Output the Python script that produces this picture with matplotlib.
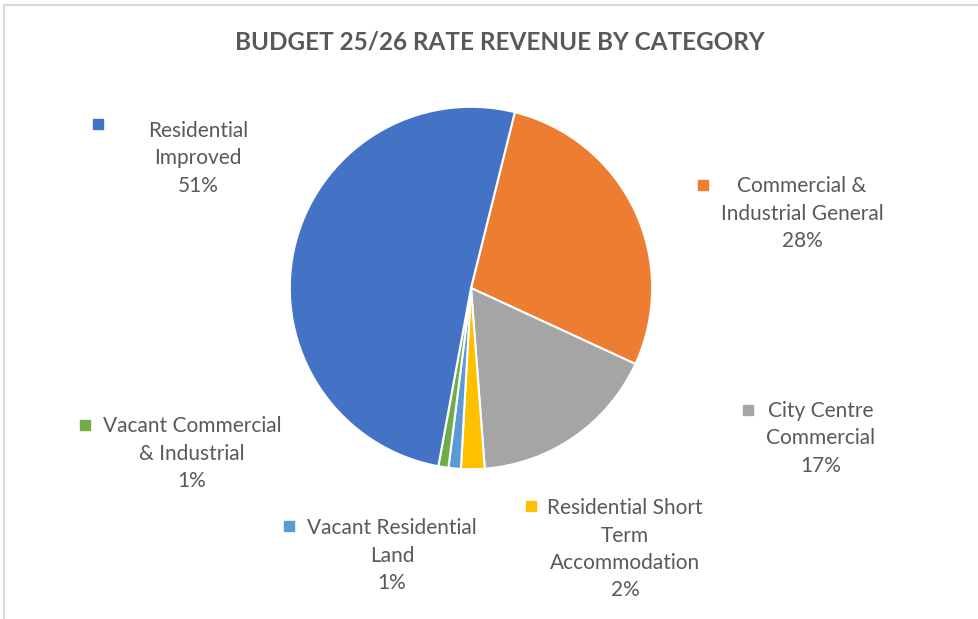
import matplotlib.pyplot as plt

W, H = 979, 619

# slices in drawing order (clockwise, starting just right of 12 o'clock)
categories = ["Commercial &\nIndustrial General", "City Centre\nCommercial",
              "Residential Short\nTerm\nAccommodation", "Vacant Residential\nLand",
              "Vacant Commercial\n& Industrial", "Residential\nImproved"]
shares = [28.0, 16.9, 2.1, 1.1, 0.9, 51.0]
pct_labels = ["28%", "17%", "2%", "1%", "1%", "51%"]
colors = ["#ED7D31", "#A5A5A5", "#FFC000", "#5B9BD5", "#70AD47", "#4472C4"]

# label block centre x, first line y, marker position (pixels)
label_pos = [(802, 186, 703, 185), (821, 411, 748, 410), (625, 508, 531, 506),
             (392, 528, 289, 526), (192, 426, 85, 425), (198, 131, 98, 124)]

plt.rcParams['font.family'] = ['Lato', 'DejaVu Sans']
grey_txt = "#595959"

fig = plt.figure(figsize=(W / 100, H / 100), dpi=100)

def px(x, y):
    return x / W, 1 - y / H

# chart border (left and top visible)
fig.add_artist(plt.Line2D([4 / W, 4 / W], [0, 1 - 5 / H], color="#D9D9D9", lw=1.5))
fig.add_artist(plt.Line2D([4 / W, 1], [1 - 5 / H, 1 - 5 / H], color="#D9D9D9", lw=1.5))

cx, cy, r = 471, 288, 183
ax = fig.add_axes([(cx - r) / W, 1 - (cy + r) / H, 2 * r / W, 2 * r / H])
ax.pie(shares, colors=colors, startangle=76, counterclock=False,
       wedgeprops=dict(edgecolor="white", linewidth=1.5))
ax.set_xlim(-1.01, 1.01)
ax.set_ylim(-1.01, 1.01)
ax.set_aspect("equal")
ax.axis("off")

fig.text(*px(500, 42), "BUDGET 25/26 RATE REVENUE BY CATEGORY", ha="center", va="center",
         fontsize=17.5, fontweight="bold", color=grey_txt)

for cat, pct, col, (lx, ly, mx, my) in zip(categories, pct_labels, colors, label_pos):
    lines = cat.split("\n") + [pct]
    for i, line in enumerate(lines):
        fig.text(*px(lx, ly + i * 27.5), line, ha="center", va="center",
                 fontsize=15, color=grey_txt)
    fig.add_artist(plt.Line2D([mx / W], [1 - my / H], marker="s", markersize=6.5,
                              color=col, linestyle="none"))

fig.savefig("out.png", dpi=100)
